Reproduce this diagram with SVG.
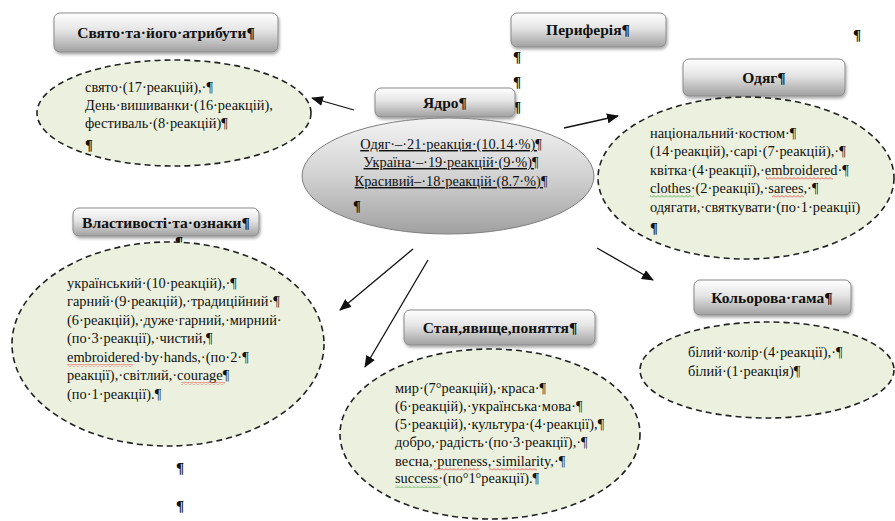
<svg xmlns="http://www.w3.org/2000/svg" width="895" height="521" viewBox="0 0 895 521">
<defs>
<linearGradient id="boxg" x1="0" y1="0" x2="0" y2="1">
<stop offset="0" stop-color="#ffffff"/>
<stop offset="0.45" stop-color="#e4e4e4"/>
<stop offset="1" stop-color="#a0a0a0"/>
</linearGradient>
<linearGradient id="coreg" x1="0" y1="0" x2="0" y2="1">
<stop offset="0" stop-color="#f3f3f3"/>
<stop offset="0.5" stop-color="#d2d2d2"/>
<stop offset="1" stop-color="#a0a0a0"/>
</linearGradient>
<filter id="sh" x="-10%" y="-20%" width="125%" height="160%">
<feDropShadow dx="1" dy="2" stdDeviation="1.5" flood-color="#000" flood-opacity="0.35"/>
</filter>
<marker id="arr" markerUnits="userSpaceOnUse" markerWidth="12" markerHeight="10" refX="11" refY="5" orient="auto">
<path d="M0,0 L12,5 L0,10 Z" fill="#111"/>
</marker>
<pattern id="wavyR" patternUnits="userSpaceOnUse" width="4" height="3">
<path d="M0,2.5 L2,0.5 L4,2.5" fill="none" stroke="#e03030" stroke-width="0.8"/>
</pattern>
<pattern id="wavyG" patternUnits="userSpaceOnUse" width="4" height="3">
<path d="M0,2.5 L2,0.5 L4,2.5" fill="none" stroke="#3a9a3a" stroke-width="0.8"/>
</pattern>
</defs>
<style>
.box{fill:url(#boxg);stroke:#8a8a8a;stroke-width:1;filter:url(#sh)}
.lbl{font-family:"Liberation Serif","Times New Roman",serif;font-weight:bold;font-size:15.5px;text-anchor:middle;fill:#111}
.ell{fill:#EBF1DE;stroke:#222;stroke-width:1.6;stroke-dasharray:6 4}
.core{fill:url(#coreg);stroke:#7f7f7f;stroke-width:1}
.t{font-family:"Liberation Serif","Times New Roman",serif;font-size:14.4px;fill:#111}
.u{text-decoration:underline}
.p{font-family:"Liberation Serif","Times New Roman",serif;font-size:15px;font-weight:bold;fill:#111}
.conn line{stroke:#111;stroke-width:1.3;marker-end:url(#arr)}
.wr{fill:url(#wavyR)}
.wg{fill:url(#wavyG)}
</style>
<rect width="895" height="521" fill="#ffffff"/>

<g id="stray">
<text class="p" x="175" y="247">¶</text>
<text class="p" x="513" y="62">¶</text>
<text class="p" x="513" y="87">¶</text>
<text class="p" x="513" y="112">¶</text>
<text class="p" x="853" y="40">¶</text>
<text class="p" x="176" y="473">¶</text>
<text class="p" x="176" y="511">¶</text>
</g>

<g id="node-svyato">
<rect class="box" x="54" y="13" width="224" height="39" rx="6"/>
<text class="lbl" x="166" y="38">Свято·та·його·атрибути¶</text>
<ellipse class="ell" cx="174" cy="113" rx="137" ry="53"/>
<text class="t" x="85" y="92">свято·(17·реакцій),·¶</text>
<text class="t" x="85" y="110">День·вишиванки·(16·реакцій),</text>
<text class="t" x="85" y="128">фестиваль·(8·реакцій)¶</text>
<text class="t" x="85" y="150" font-weight="bold">¶</text>
</g>

<g id="node-yadro">
<rect class="box" x="375" y="88" width="140" height="29" rx="6"/>
<text class="lbl" x="445" y="108">Ядро¶</text>
<ellipse class="core" cx="448" cy="176" rx="146" ry="58"/>
<text class="t u" x="451" y="149" text-anchor="middle">Одяг·–·21·реакція·(10.14·%)¶</text>
<text class="t u" x="451" y="167" text-anchor="middle">Україна·–·19·реакцій·(9·%)¶</text>
<text class="t u" x="451" y="186" text-anchor="middle">Красивий–·18·реакцій·(8.7·%)¶</text>
<text class="t" x="353" y="211" font-weight="bold">¶</text>
</g>

<g id="node-peryferiya">
<rect class="box" x="511" y="13" width="155" height="34" rx="6"/>
<text class="lbl" x="588" y="35">Периферія¶</text>
</g>

<g id="node-odyag">
<rect class="box" x="683" y="59" width="162" height="37" rx="6"/>
<text class="lbl" x="764" y="83">Одяг¶</text>
<ellipse class="ell" cx="746" cy="178" rx="148" ry="81"/>
<text class="t" x="650" y="138">національний·костюм·¶</text>
<text class="t" x="650" y="156">(14·реакцій),·сарі·(7·реакцій),·¶</text>
<text class="t" x="650" y="175">квітка·(4·реакції),·embroidered·¶</text>
<text class="t" x="650" y="193">clothes·(2·реакції),·sarees,·¶</text>
<text class="t" x="650" y="212">одягати,·святкувати·(по·1·реакції)</text>
<text class="t" x="650" y="233" font-weight="bold">¶</text>
<rect class="wr" x="766" y="177" width="67" height="3"/>
<rect class="wg" x="650" y="195" width="44" height="3"/>
<rect class="wr" x="772" y="195" width="32" height="3"/>
</g>

<g id="node-vlastyvosti">
<rect class="box" x="73" y="208" width="186" height="28" rx="6"/>
<text class="lbl" x="166" y="228">Властивості·та·ознаки¶</text>
<ellipse class="ell" cx="168" cy="344" rx="156" ry="102"/>
<text class="t" x="67" y="288">український·(10·реакцій),·¶</text>
<text class="t" x="67" y="306">гарний·(9·реакцій),·традиційний·¶</text>
<text class="t" x="67" y="325">(6·реакцій),·дуже·гарний,·мирний·</text>
<text class="t" x="67" y="343">(по·3·реакції),·чистий,¶</text>
<text class="t" x="67" y="362">embroidered·by·hands,·(по·2·¶</text>
<text class="t" x="67" y="380">реакції),·світлий,·courage¶</text>
<text class="t" x="67" y="399">(по·1·реакції).¶</text>
<rect class="wr" x="67" y="364" width="66" height="3"/>
<rect class="wr" x="181" y="382" width="44" height="3"/>
</g>

<g id="node-stan">
<rect class="box" x="404" y="310" width="191" height="35" rx="6"/>
<text class="lbl" x="500" y="333">Стан,явище,поняття¶</text>
<ellipse class="ell" cx="490" cy="434" rx="150" ry="85"/>
<text class="t" x="395" y="393">мир·(7°реакцій),·краса·¶</text>
<text class="t" x="395" y="411">(6·реакцій),·українська·мова·¶</text>
<text class="t" x="395" y="429">(5·реакцій),·культура·(4·реакції),¶</text>
<text class="t" x="395" y="447">добро,·радість·(по·3·реакції),·¶</text>
<text class="t" x="395" y="466">весна,·pureness,·similarity,·¶</text>
<text class="t" x="395" y="483">success·(по°1°реакції).¶</text>
<rect class="wr" x="434" y="468" width="45" height="3"/>
<rect class="wr" x="489" y="468" width="48" height="3"/>
<rect class="wg" x="395" y="485" width="46" height="3"/>
</g>

<g id="node-kolir">
<rect class="box" x="694" y="280" width="157" height="35" rx="6"/>
<text class="lbl" x="772" y="303">Кольорова·гама¶</text>
<ellipse class="ell" cx="767" cy="370" rx="127" ry="48"/>
<text class="t" x="688" y="357">білий·колір·(4·реакції),·¶</text>
<text class="t" x="688" y="376">білий·(1·реакція)¶</text>
</g>

<g id="connectors" class="conn">
<line x1="354" y1="110" x2="312" y2="98"/>
<line x1="564" y1="128" x2="618" y2="116"/>
<line x1="413" y1="249" x2="340" y2="310"/>
<line x1="428" y1="260" x2="365" y2="367"/>
<line x1="597" y1="248" x2="653" y2="280"/>
</g>
</svg>
